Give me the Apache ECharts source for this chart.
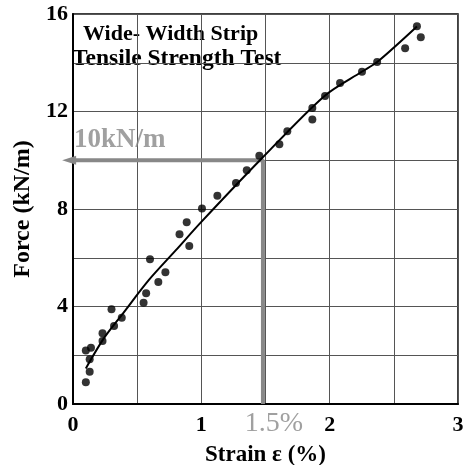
<!DOCTYPE html>
<html><head><meta charset="utf-8">
<script src="https://cdn.jsdelivr.net/npm/echarts@6/dist/echarts.min.js"></script>
<style>html,body{margin:0;padding:0;background:#fff}#c{width:470px;height:465px}</style>
</head><body><div id="c"></div>
<script>
// Measured test points: strain (%) and force (kN/m)
const strain = [0.10,0.13,0.10,0.14,0.13,0.23,0.23,0.30,0.32,0.38,0.55,0.57,0.60,0.665,0.72,0.83,0.886,0.906,1.005,1.125,1.27,1.354,1.452,1.608,1.67,1.865,1.865,1.964,2.081,2.252,2.37,2.588,2.68,2.71];
const force  = [0.89,1.32,2.19,2.31,1.84,2.90,2.58,3.89,3.20,3.54,4.15,4.54,5.94,5.01,5.41,6.96,7.46,6.48,8.02,8.54,9.07,9.59,10.18,10.66,11.19,11.67,12.14,12.64,13.17,13.63,14.03,14.60,15.50,15.05];
// Fitted trend curve
const fitStrain = [0.10,0.24,0.39,0.59,0.80,1.00,1.47,1.96,2.25,2.37,2.68];
const fitForce  = [1.46,2.69,3.72,5.08,6.30,7.47,10.07,12.64,13.63,14.03,15.49];
// Reference marker at 1.5 % strain / 10 kN/m (as drawn)
const refStrain = 1.48, refForce = 10.0, arrowEndStrain = -0.03;
const xTicks = [0,1,2,3];
const yTicks = [0,4,8,12,16];
const titleLines = ['Wide- Width Strip','Tensile Strength Test'];
const refLabels = ['10kN/m','1.5%'];

const font = '"Liberation Serif", "Times New Roman", serif';
const gray = '#888888';
const chart = echarts.init(document.getElementById('c'));
chart.setOption({
  animation:false,
  backgroundColor:'#fff',
  grid:{left:73,right:12,top:14,bottom:61,show:true,borderColor:'#000',borderWidth:1.5,containLabel:false,outerBoundsMode:'none'},
  xAxis:{type:'value',min:0,max:3,interval:0.5,
    axisLine:{show:true,onZero:false,lineStyle:{color:'#000',width:2}},
    axisTick:{show:false},
    splitLine:{show:true,lineStyle:{color:'#555',width:1}},
    axisLabel:{margin:10,fontFamily:font,fontWeight:'bold',fontSize:22,color:'#000',
      formatter:v=>xTicks.includes(v)?String(v):''},
    name:'Strain \u03b5 (%)',nameLocation:'middle',nameGap:40,
    nameTextStyle:{fontFamily:font,fontWeight:'bold',fontSize:23,color:'#000'}
  },
  yAxis:{type:'value',min:0,max:16,interval:2,
    axisLine:{show:true,lineStyle:{color:'#000',width:2}},
    axisTick:{show:false},
    splitLine:{show:true,lineStyle:{color:'#555',width:1}},
    axisLabel:{margin:5,fontFamily:font,fontWeight:'bold',fontSize:22,color:'#000',
      formatter:v=>yTicks.includes(v)?String(v):''},
    name:'Force (kN/m)',nameLocation:'middle',nameGap:38,
    nameTextStyle:{fontFamily:font,fontWeight:'bold',fontSize:24,color:'#000'}
  },
  graphic:[
    {type:'text',left:83,top:23,style:{text:titleLines[0],font:'bold 22px '+font,fill:'#000'}},
    {type:'text',left:72,top:47,style:{text:titleLines[1],font:'bold 23.5px '+font,fill:'#000'}}
  ],
  series:[
    {type:'line',clip:false,symbol:'none',showSymbol:true,silent:true,z:1,
      data:[[refStrain,0],[refStrain,refForce],
        {value:[arrowEndStrain,refForce],symbol:'triangle',symbolSize:[9,14],symbolRotate:90,itemStyle:{color:gray}}],
      lineStyle:{color:gray,width:4}
    },
    {type:'line',data:fitStrain.map((x,i)=>[x,fitForce[i]]),smooth:0.3,showSymbol:false,symbol:'none',
      lineStyle:{color:'#000',width:2},z:3},
    {type:'scatter',data:strain.map((x,i)=>[x,force[i]]),symbol:'circle',symbolSize:8,
      itemStyle:{color:'#000'},z:4},
    {type:'scatter',data:[[0.0,10.85]],symbolSize:0,silent:true,
      label:{show:true,position:'right',offset:[-4,0],formatter:refLabels[0],fontFamily:font,fontWeight:'bold',fontSize:27,color:gray}},
    {type:'scatter',data:[[refStrain,0]],symbolSize:0,silent:true,clip:false,
      label:{show:true,position:'bottom',offset:[11,1],formatter:refLabels[1],fontFamily:font,fontSize:28,color:gray}}
  ]
});
</script></body></html>
